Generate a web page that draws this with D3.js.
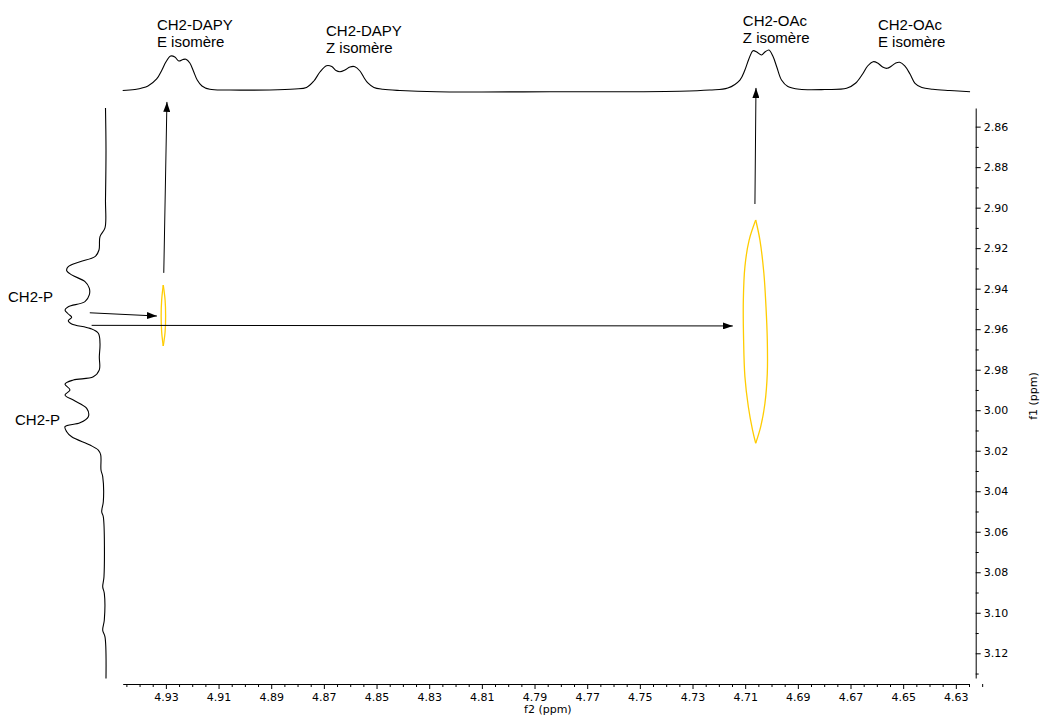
<!DOCTYPE html>
<html><head><meta charset="utf-8">
<script src="https://cdn.jsdelivr.net/npm/d3@7"></script>
<style>body{margin:0;background:#fff} svg{display:block}</style>
</head><body>
<svg id="c" width="1040" height="717"></svg>
<script>
// ---------- data ----------
const f2MajorTicks = [4.93, 4.91, 4.89, 4.87, 4.85, 4.83, 4.81, 4.79, 4.77, 4.75, 4.73, 4.71, 4.69, 4.67, 4.65, 4.63];
const f1MajorTicks = [2.86, 2.88, 2.90, 2.92, 2.94, 2.96, 2.98, 3.00, 3.02, 3.04, 3.06, 3.08, 3.10, 3.12];

// 1D projection along f2 (top trace): chemical shift and relative intensity
const topPpm = [4.9464,4.9418,4.9368,4.9335,4.9315,4.9300,4.9282,4.9266,4.9251,4.9235,4.9224,4.9209,4.9194,4.9181,4.9163,4.9133,4.9057,4.8905,4.8810,4.8766,4.8738,4.8715,4.8690,4.8670,4.8654,4.8639,4.8620,4.8601,4.8582,4.8563,4.8548,4.8533,4.8510,4.8476,4.8411,4.8272,4.7842,4.7348,4.7235,4.7166,4.7120,4.7101,4.7086,4.7070,4.7056,4.7038,4.7025,4.7010,4.6995,4.6980,4.6962,4.6938,4.6893,4.6798,4.6715,4.6680,4.6654,4.6635,4.6614,4.6597,4.6578,4.6561,4.6544,4.6528,4.6513,4.6494,4.6474,4.6455,4.6429,4.6387,4.6323,4.6246];
const topInt = [0.058,0.081,0.163,0.326,0.535,0.721,0.860,0.837,0.744,0.779,0.784,0.698,0.488,0.302,0.163,0.086,0.070,0.070,0.093,0.128,0.279,0.488,0.635,0.616,0.523,0.495,0.535,0.605,0.612,0.512,0.360,0.233,0.128,0.086,0.058,0.030,0.028,0.042,0.070,0.116,0.302,0.535,0.791,0.984,0.953,0.884,0.953,1.000,0.860,0.605,0.302,0.151,0.086,0.081,0.109,0.233,0.442,0.628,0.728,0.698,0.605,0.574,0.628,0.698,0.714,0.628,0.442,0.226,0.128,0.086,0.058,0.030];

// 1D projection along f1 (left trace)
const leftPpm = [2.8508,2.8715,2.8962,2.9100,2.9143,2.9209,2.9242,2.9267,2.9291,2.9311,2.9332,2.9365,2.9397,2.9431,2.9464,2.9489,2.9505,2.9525,2.9541,2.9558,2.9574,2.9596,2.9620,2.9670,2.9736,2.9801,2.9835,2.9851,2.9871,2.9900,2.9925,2.9950,2.9991,3.0032,3.0062,3.0081,3.0106,3.0131,3.0172,3.0197,3.0221,3.0295,3.0328,3.0452,3.0501,3.0526,3.0822,3.0872,3.0904,3.1036,3.1086,3.1119,3.1324];
const leftInt = [0.024,0.012,0.024,0.036,0.155,0.179,0.274,0.631,0.910,0.948,0.829,0.512,0.410,0.410,0.512,0.910,0.988,0.910,0.829,0.910,0.829,0.393,0.195,0.155,0.171,0.171,0.314,0.790,0.988,0.869,0.988,0.790,0.471,0.433,0.631,0.988,0.948,0.829,0.393,0.195,0.138,0.131,0.090,0.076,0.114,0.076,0.060,0.090,0.052,0.052,0.090,0.036,0.012];

// cross-peak contours (f2, f1), each as right side and left side from top to bottom
const peakA_f1 = [2.9382, 2.9456, 2.9535, 2.9614, 2.9683];
const peakA_f2Right = [4.9310, 4.9303, 4.9301, 4.9303, 4.9310];
const peakA_f2Left = [4.9310, 4.9316, 4.9318, 4.9316, 4.9310];

const peakB_f1Right = [2.9061, 2.9160, 2.9324, 2.9489, 2.9653, 2.9818, 2.9966, 3.0081, 3.0163];
const peakB_f2Right = [4.7060, 4.7044, 4.7029, 4.7021, 4.7016, 4.7016, 4.7025, 4.7041, 4.7060];
const peakB_f1Left = [2.9061, 2.9160, 2.9291, 2.9456, 2.9653, 2.9835, 2.9983, 3.0098, 3.0163];
const peakB_f2Left = [4.7060, 4.7085, 4.7101, 4.7107, 4.7106, 4.7101, 4.7088, 4.7072, 4.7060];

// annotations
const topLabels = [["CH2-DAPY", "E isomère"], ["CH2-DAPY", "Z isomère"], ["CH2-OAc", "Z isomère"], ["CH2-OAc", "E isomère"]];
const topLabelPpm = [4.9334, 4.8692, 4.7109, 4.6596];
const topLabelLevel = [1.465, 1.326, 1.558, 1.465];
const leftLabels = ["CH2-P", "CH2-P"];
const leftLabelPpm = [2.9466, 3.0073];
const leftLabelLevel = [2.345, 2.179];

// arrows: [f2 start, f1 start, f2 end, f1 end]
const arrows = [
  [4.9308, 2.9322, 4.9296, 2.8478],
  [4.7063, 2.8982, 4.7059, 2.8409],
  [4.9589, 2.9519, 4.9334, 2.9535],
  [4.9582, 2.9581, 4.7147, 2.9584]
];

// ---------- drawing ----------
const svg = d3.select("#c");
const x = d3.scaleLinear().domain([4.9464, 4.6250]).range([122.7, 969.0]);
const y = d3.scaleLinear().domain([2.8508, 3.1322]).range([108, 678]);
const topI = d3.scaleLinear().domain([0, 1]).range([93, 50]);
const leftI = d3.scaleLinear().domain([0, 1]).range([106.5, 64.5]);

const defs = svg.append("defs");
defs.append("marker").attr("id", "ah")
  .attr("markerUnits", "userSpaceOnUse")
  .attr("markerWidth", 11).attr("markerHeight", 7)
  .attr("refX", 10).attr("refY", 3.5).attr("orient", "auto")
  .append("path").attr("d", "M0,0 L10,3.5 L0,7 Z").attr("fill", "#000");

// top trace
svg.append("path")
  .datum(topPpm.map((p, i) => [p, topInt[i]]))
  .attr("fill", "none").attr("stroke", "#000").attr("stroke-width", 1.1)
  .attr("d", d3.line().x(d => x(d[0])).y(d => topI(d[1])).curve(d3.curveCatmullRom.alpha(0.5)));

// left trace
svg.append("path")
  .datum(leftPpm.map((p, i) => [p, leftInt[i]]))
  .attr("fill", "none").attr("stroke", "#000").attr("stroke-width", 1.1)
  .attr("d", d3.line().x(d => leftI(d[1])).y(d => y(d[0])).curve(d3.curveCatmullRom.alpha(0.5)));

// contours
const cl = d3.line().x(d => x(d[0])).y(d => y(d[1])).curve(d3.curveCatmullRom.alpha(0.5));
const sides = [
  peakA_f2Right.map((v, i) => [v, peakA_f1[i]]),
  peakA_f2Left.map((v, i) => [v, peakA_f1[i]]),
  peakB_f2Right.map((v, i) => [v, peakB_f1Right[i]]),
  peakB_f2Left.map((v, i) => [v, peakB_f1Left[i]])
];
svg.append("g").selectAll("path").data(sides).join("path")
  .attr("fill", "none").attr("stroke", "#FFCC00").attr("stroke-width", 1.3)
  .attr("d", cl);

// arrows
svg.append("g").selectAll("line").data(arrows).join("line")
  .attr("x1", d => x(d[0])).attr("y1", d => y(d[1]))
  .attr("x2", d => x(d[2])).attr("y2", d => y(d[3]))
  .attr("stroke", "#000").attr("stroke-width", 1)
  .attr("marker-end", "url(#ah)");

// bottom axis
const axY = 684;
const minorX = d3.range(4.945, 4.62, -0.005).map(v => +v.toFixed(3)).filter(v => !f2MajorTicks.some(m => Math.abs(m - v) < 1e-6));
const gxMinor = svg.append("g").attr("transform", `translate(0,${axY})`)
  .call(d3.axisBottom(x).tickValues(minorX).tickSize(3).tickSizeOuter(0).tickFormat(""));
gxMinor.select(".domain").remove();
const gx = svg.append("g").attr("transform", `translate(0,${axY})`)
  .call(d3.axisBottom(x).tickValues(f2MajorTicks).tickSize(5).tickSizeOuter(0).tickPadding(4).tickFormat(d3.format(".2f")));
gx.selectAll("text").attr("font-family", "'DejaVu Sans', Verdana, sans-serif").attr("font-size", 11).attr("fill", "#000");

// right axis
const axX = 975.7;
const minorY = d3.range(2.87, 3.135, 0.02).map(v => +v.toFixed(2));
const gyMinor = svg.append("g").attr("transform", `translate(${axX},0)`)
  .call(d3.axisRight(y).tickValues(minorY).tickSize(3).tickSizeOuter(0).tickFormat(""));
gyMinor.select(".domain").remove();
const gy = svg.append("g").attr("transform", `translate(${axX},0)`)
  .call(d3.axisRight(y).tickValues(f1MajorTicks).tickSize(5).tickSizeOuter(0).tickPadding(3).tickFormat(d3.format(".2f")));
gy.selectAll("text").attr("font-family", "'DejaVu Sans', Verdana, sans-serif").attr("font-size", 11).attr("fill", "#000");

svg.selectAll(".domain, .tick line").attr("stroke", "#000");

// axis titles
svg.append("text").attr("x", (x.range()[0] + x.range()[1]) / 2 + 2).attr("y", 713)
  .attr("text-anchor", "middle").attr("font-family", "'DejaVu Sans', Verdana, sans-serif").attr("font-size", 11)
  .text("f2 (ppm)");
svg.append("text").attr("transform", `translate(1037,${y(2.993)}) rotate(-90)`)
  .attr("text-anchor", "middle").attr("font-family", "'DejaVu Sans', Verdana, sans-serif").attr("font-size", 11)
  .text("f1 (ppm)");

// annotation labels
const lab = svg.append("g").attr("font-family", "'Liberation Sans', Arial, sans-serif").attr("font-size", 15).attr("fill", "#000");
topLabels.forEach((lines, i) => {
  lines.forEach((t, j) => {
    lab.append("text").attr("x", x(topLabelPpm[i])).attr("y", topI(topLabelLevel[i]) + j * 17).text(t);
  });
});
leftLabels.forEach((t, i) => {
  lab.append("text").attr("x", leftI(leftLabelLevel[i])).attr("y", y(leftLabelPpm[i])).text(t);
});
</script>
</body></html>
